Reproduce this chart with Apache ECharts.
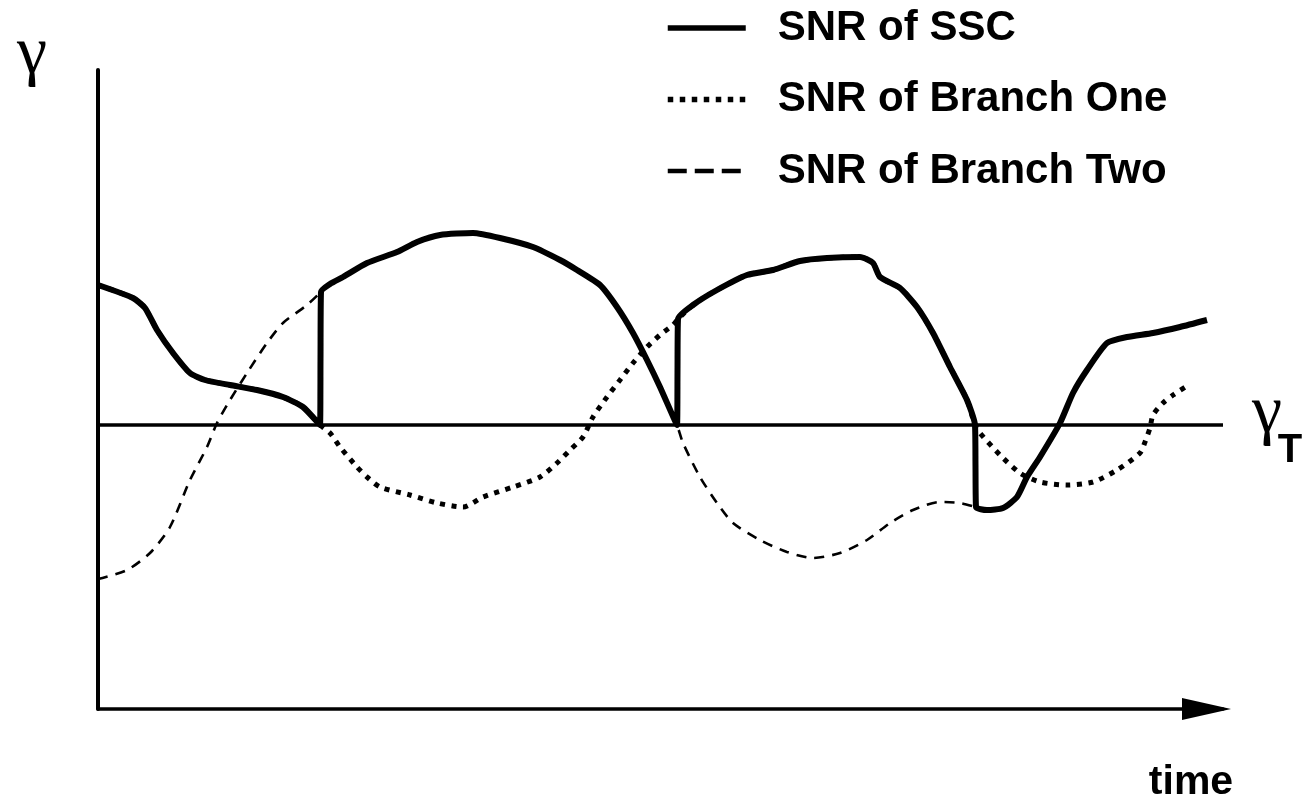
<!DOCTYPE html>
<html>
<head>
<meta charset="utf-8">
<title>SNR of SSC</title>
<script src="https://cdn.jsdelivr.net/npm/echarts@6/dist/echarts.min.js"></script>
<style>
  html, body { margin: 0; padding: 0; background: #fff; }
  #chart { width: 1307px; height: 801px; }
</style>
</head>
<body>
<div id="chart"></div>
<script>
  // axis ranges, arbitrary units (no ticks in the figure)
  const timeMax = 112.5;
  const snrMax = 63.9;
  // switching threshold gamma_T
  const threshold = 28.4;

  // SNR after switch-and-stay combining: [time, snr]
  const sscPoints = [
    [0, 42.4], [3.5, 41.1], [4.7, 40.1], [5.9, 37.9], [7.5, 35.6], [9.2, 33.6], [10.7, 32.9],
    [13.2, 32.4], [15.9, 31.9], [18.5, 31.2], [20.5, 30.2], [22.2, 28.4],
    [22.25, 35.0], [22.3, 41.7], [23.2, 42.5], [24.5, 43.2], [26.9, 44.6], [29.9, 45.7], [31.9, 46.7], [34.2, 47.4],
    [37.5, 47.6], [40.2, 47.1], [43.5, 46.2], [46.2, 44.9], [47.9, 43.9], [50.2, 42.4], [51.9, 40.2],
    [53.5, 37.6], [54.9, 34.9], [56.2, 32.2], [57.9, 28.4],
    [57.95, 33.7], [58.0, 39.0], [59.5, 40.4], [61.9, 41.9], [64.9, 43.4], [67.5, 43.9], [70.2, 44.8], [72.9, 45.1],
    [76.2, 45.2], [77.5, 44.6], [78.2, 43.2], [80.2, 42.1], [81.9, 40.2], [83.5, 37.6], [85.2, 34.2],
    [86.9, 30.9], [87.7, 28.4],
    [87.75, 24.3], [87.8, 20.2], [88.9, 19.9], [90.5, 20.1], [91.9, 21.2], [92.9, 23.2], [94.2, 25.2], [96.2, 28.6],
    [97.5, 31.6], [98.9, 33.9], [100.9, 36.6], [102.9, 37.2], [105.5, 37.6], [108.2, 38.2], [110.9, 38.9]
  ];

  // branch one where it is not the selected branch
  const branchOneDip = [
    [23.2, 27.6], [24.2, 26.2], [25.9, 24.2], [26.9, 23.2], [28.2, 22.2], [31.2, 21.4], [33.9, 20.6],
    [36.5, 20.2], [38.5, 21.2], [41.5, 22.2], [44.2, 23.2], [45.9, 24.6], [47.2, 25.9], [48.5, 27.2],
    [49.5, 29.2], [50.9, 31.2], [52.2, 32.9], [53.5, 34.6], [54.9, 36.2], [56.2, 37.4], [57.5, 38.4]
  ];
  const branchOneTail = [
    [88.2, 27.6], [90.2, 25.4], [92.2, 23.6], [94.2, 22.7], [96.9, 22.4], [99.5, 22.7], [101.9, 23.9],
    [104.2, 25.6], [104.7, 26.7], [105.2, 28.1], [105.5, 29.4], [106.5, 30.6], [107.5, 31.4], [108.9, 32.3]
  ];

  // branch two where it is not the selected branch
  const branchTwoHead = [
    [0, 13.0], [2.9, 13.9], [5.2, 15.6], [7.2, 18.2], [9.2, 22.9], [10.9, 26.2], [11.9, 28.6],
    [13.2, 30.9], [14.9, 33.6], [16.9, 36.6], [18.5, 38.6], [20.9, 40.4]
  ];
  const branchTwoDip = [
    [58.5, 26.6], [60.2, 23.2], [61.9, 20.6], [63.5, 18.6], [66.2, 16.9], [68.9, 15.7], [71.5, 15.1],
    [74.2, 15.6], [76.9, 16.9], [79.2, 18.6], [81.5, 19.9], [84.2, 20.7], [86.2, 20.6]
  ];

  function sscBetween(from, to) {
    return sscPoints.filter(function (p) { return p[0] >= from && p[0] <= to; });
  }

  const branchOnePoints = [].concat(sscBetween(0, 22.2), branchOneDip, sscBetween(58.0, 87.7), branchOneTail);
  const branchTwoPoints = [].concat(branchTwoHead, sscBetween(22.3, 57.9), branchTwoDip, sscBetween(87.8, timeMax));

  const sansFont = '"Liberation Sans", Arial, Helvetica, sans-serif';
  const serifFont = '"Liberation Serif", "Times New Roman", serif';

  const chart = echarts.init(document.getElementById('chart'));
  chart.setOption({
    animation: false,
    backgroundColor: '#fff',
    grid: {left: 98, right: 84, top: 70, bottom: 92},
    xAxis: {
      type: 'value',
      min: 0,
      max: timeMax,
      axisLine: {
        show: true,
        symbol: ['none', 'triangle'],
        symbolSize: [22, 49],
        symbolOffset: [0, -16.5],
        lineStyle: {color: '#000', width: 3.5}
      },
      axisTick: {show: false},
      axisLabel: {show: false},
      splitLine: {show: false}
    },
    yAxis: {
      type: 'value',
      min: 0,
      max: snrMax,
      axisLine: {show: true, lineStyle: {color: '#000', width: 4}},
      axisTick: {show: false},
      axisLabel: {show: false},
      splitLine: {show: false}
    },
    legend: {
      orient: 'vertical',
      left: 665,
      top: 7,
      padding: 0,
      itemWidth: 78,
      itemHeight: 2,
      itemGap: 29.5,
      selectedMode: false,
      itemStyle: {opacity: 0},
      textStyle: {
        fontFamily: sansFont,
        fontWeight: 'bold',
        fontSize: 42,
        color: '#000',
        padding: [20, 0, 0, 27]
      },
      data: [
        {name: 'SNR of SSC', lineStyle: {color: '#000', width: 5.5, type: 'solid'}},
        {name: 'SNR of Branch One', lineStyle: {color: '#000', width: 5.5, type: [5.5, 6.5]}},
        {name: 'SNR of Branch Two', lineStyle: {color: '#000', width: 4.5, type: [19, 8]}}
      ]
    },
    graphic: [
      {
        type: 'text', x: 32, y: 55,
        style: {text: 'γ', font: '68px ' + serifFont, fill: '#000', textAlign: 'center', textVerticalAlign: 'middle'}
      },
      {
        type: 'text', x: 1267, y: 414,
        style: {text: 'γ', font: '68px ' + serifFont, fill: '#000', textAlign: 'center', textVerticalAlign: 'middle'}
      },
      {
        type: 'text', x: 1290, y: 451,
        style: {text: 'T', font: 'bold 40px ' + sansFont, fill: '#000', textAlign: 'center', textVerticalAlign: 'middle'}
      },
      {
        type: 'text', x: 1191, y: 783,
        style: {text: 'time', font: 'bold 41px ' + sansFont, fill: '#000', textAlign: 'center', textVerticalAlign: 'middle'}
      }
    ],
    series: [
      {
        name: 'SNR of Branch Two',
        type: 'line',
        data: branchTwoPoints,
        symbol: 'none',
        smooth: 0.25,
        lineStyle: {color: '#000', width: 2.6, type: [10, 8]},
        itemStyle: {color: '#000'},
        z: 2,
        markLine: {
          silent: true,
          symbol: 'none',
          label: {show: false},
          lineStyle: {color: '#000', width: 3.5, type: 'solid'},
          data: [{yAxis: threshold}]
        }
      },
      {
        name: 'SNR of Branch One',
        type: 'line',
        data: branchOnePoints,
        symbol: 'none',
        smooth: 0.25,
        lineStyle: {color: '#000', width: 5, type: [5, 6.5]},
        itemStyle: {color: '#000'},
        z: 3
      },
      {
        name: 'SNR of SSC',
        type: 'line',
        data: sscPoints,
        symbol: 'none',
        smooth: 0.2,
        lineStyle: {color: '#000', width: 6, type: 'solid', join: 'round'},
        itemStyle: {color: '#000'},
        z: 4
      }
    ]
  });
</script>
</body>
</html>
